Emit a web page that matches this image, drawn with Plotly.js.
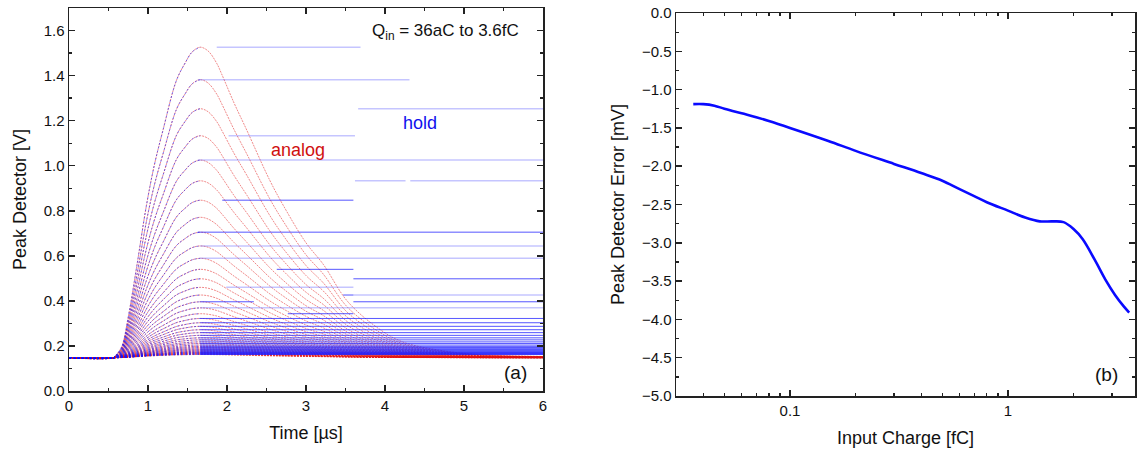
<!DOCTYPE html>
<html><head><meta charset="utf-8">
<script src="https://cdn.plot.ly/plotly-3.0.1.min.js"></script>
<style>html,body{margin:0;padding:0;background:#fff}#chart{width:1138px;height:453px}</style>
</head><body><div id="chart"></div>
<script>
// ---- Panel (a): peak detector waveforms ----
const baselineV = 0.148;
const peakTimeUs = 1.66;
// peak voltage of each pulse (Qin = 3.6fC down to 36aC)
const peakLevels = [1.526, 1.382, 1.253, 1.133, 1.025, 0.933, 0.847, 0.771, 0.705, 0.644,
  0.589, 0.540, 0.498, 0.460, 0.426, 0.396, 0.369, 0.343, 0.322, 0.303,
  0.287, 0.272, 0.259, 0.247, 0.236, 0.227, 0.218, 0.211, 0.204, 0.198,
  0.193, 0.188, 0.184, 0.180, 0.176, 0.173, 0.171, 0.168, 0.166, 0.164, 0.162];
// pulse shape (time in us, fraction of amplitude)
const shapeTime = [0, 0.56, 0.60, 0.667, 0.75, 0.857, 0.98, 1.08, 1.19, 1.36, 1.47, 1.56, 1.66,
  1.76, 1.87, 1.93, 2.09, 2.25, 2.54, 2.72, 3.0, 3.22, 3.53, 3.94, 4.23, 4.69, 5.2, 6.0];
const shapeFrac = [0, 0, 0.01, 0.035, 0.131, 0.293, 0.49, 0.62, 0.733, 0.893, 0.949, 0.985, 1,
  0.988, 0.948, 0.915, 0.82, 0.733, 0.572, 0.487, 0.37, 0.30, 0.18, 0.09, 0.05, 0.024, 0.01, 0.004];
// visible hold segments (pulse index, start us, end us)
const holdFaintIdx   = [0, 1, 2, 3, 4, 5, 5, 9, 10, 13, 14, 16];
const holdFaintStart = [1.87, 1.63, 3.66, 2.02, 1.63, 3.62, 4.32, 1.66, 1.66, 1.99, 3.6, 1.66];
const holdFaintEnd   = [3.69, 4.31, 6.0, 3.62, 6.0, 4.26, 6.0, 6.0, 6.0, 3.6, 6.0, 6.0];
const holdStrongIdx   = [6, 8, 11, 12, 14, 15, 15, 17, 18, 19, 20, 21, 22, 23, 24, 25, 26, 27, 28, 29,
  30, 31, 32, 33, 34, 35, 36, 37, 38, 39, 40];
const holdStrongStart = [1.94, 1.63, 2.63, 3.6, 3.47, 1.66, 3.6, 2.77, 1.66, 1.66, 1.66, 1.66, 1.66, 1.66,
  1.66, 1.66, 1.66, 1.66, 1.66, 1.66, 1.66, 1.66, 1.66, 1.66, 1.66, 1.66, 1.66, 1.66, 1.66, 1.66, 1.66];
const holdStrongEnd   = [3.6, 6.0, 3.6, 6.0, 3.6, 2.34, 6.0, 3.6, 6.0, 6.0, 6.0, 6.0, 6.0, 6.0,
  6.0, 6.0, 6.0, 6.0, 6.0, 6.0, 6.0, 6.0, 6.0, 6.0, 6.0, 6.0, 6.0, 6.0, 6.0, 6.0, 6.0];

// ---- Panel (b): peak detector error ----
const chargeFC = [0.036, 0.04, 0.045, 0.05, 0.06, 0.07, 0.08, 0.1, 0.15, 0.2, 0.3, 0.4, 0.5, 0.6,
  0.7, 0.8, 1.0, 1.2, 1.4, 1.6, 1.8, 2.0, 2.2, 2.5, 2.8, 3.1, 3.4, 3.6];
const errorMV = [-1.19, -1.19, -1.21, -1.25, -1.31, -1.36, -1.41, -1.50, -1.67, -1.80, -1.97, -2.09,
  -2.19, -2.30, -2.39, -2.47, -2.58, -2.67, -2.72, -2.72, -2.73, -2.82, -2.95, -3.22, -3.48, -3.68,
  -3.83, -3.91];

// build traces
const ax = [], ay = [], rx = [], ry = [];
peakLevels.forEach(p => {
  const amp = p - baselineV;
  shapeTime.forEach((t, j) => {
    ax.push(t); ay.push(baselineV + amp * shapeFrac[j]);
    if (t <= peakTimeUs) { rx.push(t); ry.push(baselineV + amp * shapeFrac[j]); }
  });
  ax.push(null); ay.push(null); rx.push(null); ry.push(null);
});
function segs(idx, s, e) {
  const x = [], y = [];
  idx.forEach((k, i) => { x.push(s[i], e[i], null); y.push(peakLevels[k], peakLevels[k], null); });
  return {x, y};
}
const hf = segs(holdFaintIdx, holdFaintStart, holdFaintEnd);
const hs = segs(holdStrongIdx, holdStrongStart, holdStrongEnd);

const traces = [
  {x: ax, y: ay, mode: 'lines', line: {color: 'rgba(225,20,20,0.5)', width: 1, shape: 'spline', dash: '2px,1px'}, xaxis: 'x', yaxis: 'y', hoverinfo: 'skip'},
  {x: rx, y: ry, mode: 'lines', line: {color: 'rgba(20,20,255,0.55)', width: 1, shape: 'spline', dash: '2px,2px'}, xaxis: 'x', yaxis: 'y', hoverinfo: 'skip'},
  {x: hf.x, y: hf.y, mode: 'lines', line: {color: 'rgba(90,90,255,0.35)', width: 1.5}, xaxis: 'x', yaxis: 'y', hoverinfo: 'skip'},
  {x: hs.x, y: hs.y, mode: 'lines', line: {color: 'rgba(30,30,255,0.75)', width: 1}, xaxis: 'x', yaxis: 'y', hoverinfo: 'skip'},
  {x: chargeFC, y: errorMV, mode: 'lines', line: {color: '#0a0aff', width: 2.6, shape: 'spline'}, xaxis: 'x2', yaxis: 'y2'}
];

const W = 1138, H = 453;
const fam = 'Liberation Sans, Arial, sans-serif';
const font = {family: fam, size: 15, color: '#111'};
const titleFont = {family: fam, size: 18, color: '#111'};
const axCommon = {showline: true, linecolor: '#222', linewidth: 1.5, mirror: 'ticks', ticks: 'inside',
  ticklen: 6, tickwidth: 1.5, tickcolor: '#222', showgrid: false, zeroline: false, automargin: false,
  tickfont: font};
const layout = {
  width: W, height: H, margin: {l: 0, r: 0, t: 0, b: 0}, paper_bgcolor: '#fff', plot_bgcolor: '#fff',
  showlegend: false, font: font,
  xaxis: Object.assign({}, axCommon, {domain: [69 / W, 543 / W], range: [0, 6], tick0: 0, dtick: 1, anchor: 'y',
    minor: {dtick: 0.5, ticks: 'inside', ticklen: 3, tickwidth: 1.3, tickcolor: '#222'},
    title: {text: 'Time [µs]', font: titleFont, standoff: 14}}),
  yaxis: Object.assign({}, axCommon, {domain: [(H - 391) / H, (H - 8) / H], range: [0, 1.7], tick0: 0, dtick: 0.2,
    tickformat: '.1f', anchor: 'x',
    minor: {dtick: 0.1, ticks: 'inside', ticklen: 3, tickwidth: 1.3, tickcolor: '#222'},
    title: {text: 'Peak Detector [V]', font: titleFont, standoff: 12}}),
  xaxis2: Object.assign({}, axCommon, {type: 'log', domain: [676 / W, 1135 / W], range: [-1.523, 0.583], anchor: 'y2',
    tickvals: [0.1, 1], ticktext: ['0.1', '1'],
    minor: {tickvals: [0.03, 0.04, 0.05, 0.06, 0.07, 0.08, 0.09, 0.2, 0.3, 0.4, 0.5, 0.6, 0.7, 0.8, 0.9, 2, 3],
      ticks: 'inside', ticklen: 3, tickwidth: 1.3, tickcolor: '#222'},
    title: {text: 'Input Charge [fC]', font: titleFont, standoff: 14}}),
  yaxis2: Object.assign({}, axCommon, {domain: [(H - 396) / H, (H - 13) / H], range: [-5, 0], tick0: 0, dtick: 0.5,
    tickformat: '.1f', anchor: 'x2',
    minor: {dtick: 0.25, ticks: 'inside', ticklen: 3, tickwidth: 1.3, tickcolor: '#222'},
    title: {text: 'Peak Detector Error [mV]', font: titleFont, standoff: 12}}),
  annotations: [
    {xref: 'x', yref: 'y', x: 5.72, y: 1.594, xanchor: 'right', yanchor: 'middle', showarrow: false,
      text: 'Q<sub>in</sub> = 36aC to 3.6fC', font: {family: fam, size: 17, color: '#111'}},
    {xref: 'x', yref: 'y', x: 2.9, y: 1.07, showarrow: false, text: 'analog',
      font: {family: fam, size: 18, color: '#d01010'}},
    {xref: 'x', yref: 'y', x: 4.44, y: 1.19, showarrow: false, text: 'hold',
      font: {family: fam, size: 18, color: '#1010ee'}},
    {xref: 'x', yref: 'y', x: 5.65, y: 0.08, showarrow: false, text: '(a)',
      font: {family: fam, size: 19, color: '#111'}},
    {xref: 'x2', yref: 'y2', x: 0.454, y: -4.72, showarrow: false, text: '(b)',
      font: {family: fam, size: 19, color: '#111'}}
  ]
};
Plotly.newPlot('chart', traces, layout, {staticPlot: true, displayModeBar: false});
</script></body></html>
